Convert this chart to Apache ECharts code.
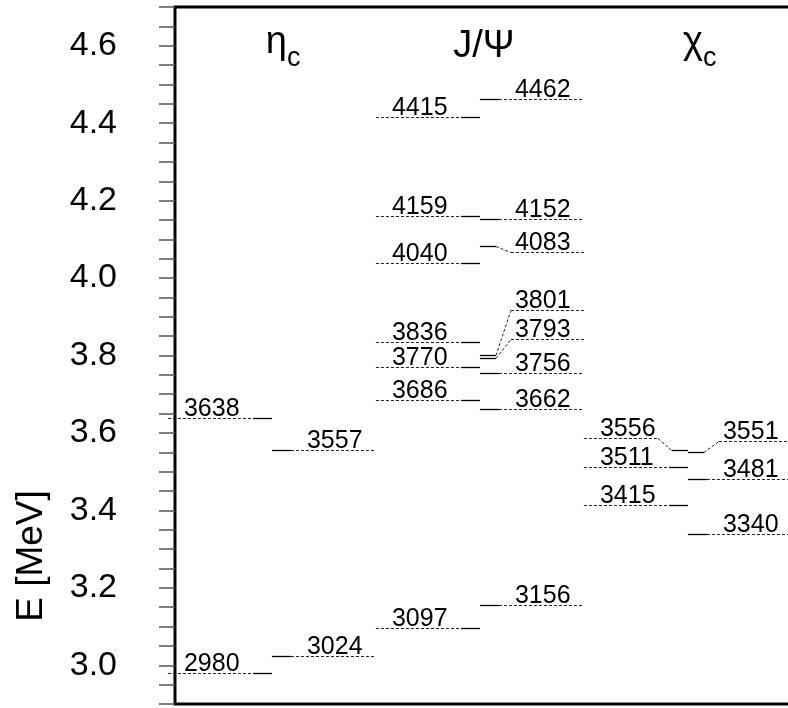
<!DOCTYPE html>
<html>
<head>
<meta charset="utf-8">
<script src="https://cdn.jsdelivr.net/npm/echarts@6/dist/echarts.min.js"></script>
<style>
  html, body { margin: 0; padding: 0; background: #fff; }
  #chart { width: 788px; height: 708px; }
</style>
</head>
<body>
<div id="chart"></div>
<script>
// masses in MeV, measured (left) and predicted (right) per family
const families = ['η', 'J/Ψ', 'χ']
const familySubs = ['c', '', 'c']
const etaExp = [2980, 3638]
const etaTh = [3024, 3557]
const psiExp = [3097, 3686, 3770, 3836, 4040, 4159, 4415]
const psiTh = [3156, 3662, 3756, 3793, 3801, 4083, 4152, 4462]
const chiExp = [3415, 3511, 3556]
const chiTh = [3340, 3481, 3551]

// labels moved off their level to avoid overlap (px)
const labelShift = { 3801: -45, 3793: -19, 4083: 6, 3556: -12, 3551: -11 }

const FONT = '"Liberation Sans", Arial, sans-serif'

const levels = []
const addLevels = (arr, col, side) => arr.forEach(m => levels.push({ col, side, mev: m }))
addLevels(etaExp, 0, 0)
addLevels(etaTh, 0, 1)
addLevels(psiExp, 1, 0)
addLevels(psiTh, 1, 1)
addLevels(chiExp, 2, 0)
addLevels(chiTh, 2, 1)

const dotted = { stroke: '#222', lineWidth: 1, lineDash: [3, 2] }
const solid = { stroke: '#000', lineWidth: 1.3 }

const seg = (x1, y1, x2, y2, style) => ({
  type: 'line', shape: { x1, y1, x2, y2 }, style
})

const renderLevel = (params, api) => {
  const lv = levels[params.dataIndex]
  const p = api.coord([lv.col, lv.mev / 1000])
  const cx = p[0], y = Math.round(p[1]) + 0.5
  const s = labelShift[lv.mev] || 0
  const ys = y + s
  const children = []
  let tx
  if (lv.side === 0) {
    if (s === 0) {
      children.push(seg(cx - 104, y, cx - 19, y, dotted))
      children.push(seg(cx - 19, y, cx, y, solid))
    } else {
      children.push(seg(cx - 104, ys, cx - 30, ys, dotted))
      children.push(seg(cx - 30, ys, cx - 16, y, dotted))
      children.push(seg(cx - 16, y, cx, y, solid))
    }
    tx = cx - 88
  } else {
    if (s === 0) {
      children.push(seg(cx, y, cx + 19, y, solid))
      children.push(seg(cx + 19, y, cx + 104, y, dotted))
    } else {
      children.push(seg(cx, y, cx + 16, y, solid))
      children.push(seg(cx + 16, y, cx + 31, ys, dotted))
      children.push(seg(cx + 31, ys, cx + 104, ys, dotted))
    }
    tx = cx + 35
  }
  children.push({
    type: 'text',
    style: {
      x: tx, y: ys + 3, text: String(lv.mev),
      fill: '#000', fontSize: 25, fontFamily: FONT,
      align: 'left', verticalAlign: 'bottom'
    }
  })
  return { type: 'group', children }
}

const renderHeader = (params, api) => {
  const i = params.dataIndex
  const p = api.coord([i, 4.7])
  const cx = p[0]
  if (!familySubs[i]) {
    return {
      type: 'text',
      style: {
        x: cx + 4, y: 66, text: families[i], fill: '#000',
        fontSize: 38, fontFamily: FONT, align: 'center', verticalAlign: 'bottom'
      }
    }
  }
  return {
    type: 'group',
    children: [
      {
        type: 'text',
        style: {
          x: cx + 15, y: 62, text: families[i], fill: '#000',
          fontSize: 38, fontFamily: FONT, align: 'right', verticalAlign: 'bottom'
        }
      },
      {
        type: 'text',
        style: {
          x: cx + 15, y: 72, text: familySubs[i], fill: '#000',
          fontSize: 27, fontFamily: FONT, align: 'left', verticalAlign: 'bottom'
        }
      }
    ]
  }
}

const chart = echarts.init(document.getElementById('chart'))

const option = {
  animation: false,
  backgroundColor: '#fff',
  grid: {
    left: 175, width: 625, top: 7, bottom: 4,
    outerBoundsMode: 'none',
    show: true, borderColor: '#000', borderWidth: 3
  },
  xAxis: {
    type: 'value', min: -0.466, max: -0.466 + 625 / 208, show: false
  },
  yAxis: {
    type: 'value', min: 2.9, max: 4.7, interval: 0.05, position: 'left',
    axisLine: { show: false, onZero: false },
    axisTick: { show: true, inside: false, length: 16, lineStyle: { color: '#555', width: 1.5 } },
    splitLine: { show: false },
    axisLabel: {
      margin: 58, fontSize: 34, color: '#000', fontFamily: FONT,
      formatter: v => (Math.round(v * 100) % 20 === 0 ? v.toFixed(1) : '')
    }
  },
  graphic: [{
    type: 'text', x: 32, y: 556, rotation: Math.PI / 2,
    style: {
      text: 'E [MeV]', fill: '#000', fontSize: 37, fontFamily: FONT,
      align: 'center', verticalAlign: 'middle'
    }
  }],
  series: [
    {
      type: 'custom',
      renderItem: renderLevel,
      clip: false,
      data: levels.map(l => [l.col, l.mev / 1000])
    },
    {
      type: 'custom',
      renderItem: renderHeader,
      clip: false,
      data: families.map((f, i) => [i, 4.7])
    }
  ]
}

chart.setOption(option)
window.addEventListener('resize', () => chart.resize())
</script>
</body>
</html>
